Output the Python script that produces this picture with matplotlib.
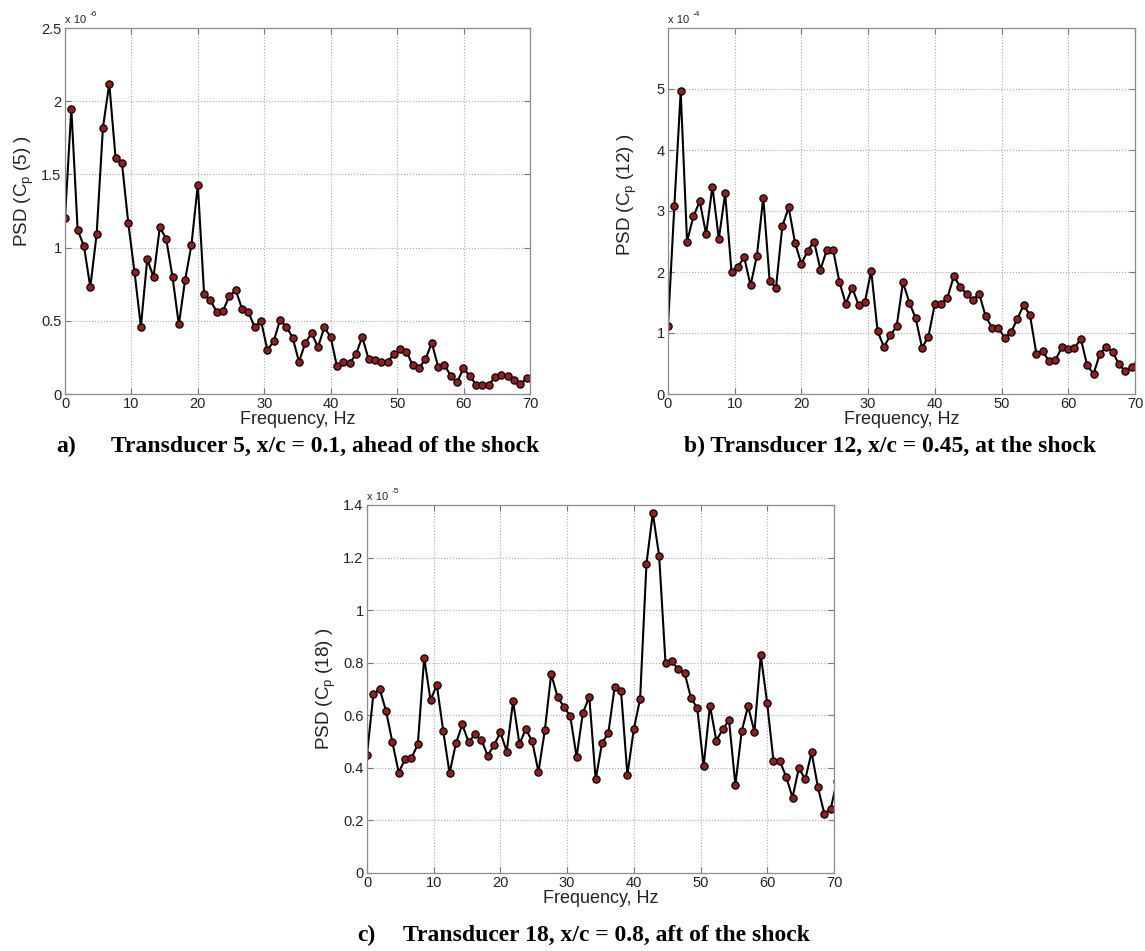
import numpy as np
import matplotlib
matplotlib.use("Agg")
import matplotlib.pyplot as plt

W, H = 1145, 951

plt.rcParams['font.family'] = ['Liberation Sans', 'DejaVu Sans']
plt.rcParams['mathtext.fontset'] = 'custom'
plt.rcParams['mathtext.rm'] = 'Liberation Sans'
plt.rcParams['mathtext.it'] = 'Liberation Sans:italic'

# --------------------------------------------------------
# data, frequency bin spacing in Hz
# --------------------------------------------------------
df = 0.952

# transducer 5, units of 1e-6
psd_a = [1.20, 1.95, 1.12, 1.01, 0.73, 1.09, 1.82, 2.12, 1.61, 1.58,
         1.17, 0.83, 0.46, 0.92, 0.80, 1.14, 1.06, 0.80, 0.475, 0.78,
         1.02, 1.43, 0.68, 0.64, 0.56, 0.57, 0.67, 0.71, 0.58, 0.56,
         0.455, 0.50, 0.30, 0.36, 0.505, 0.46, 0.385, 0.22, 0.35, 0.415,
         0.32, 0.455, 0.39, 0.19, 0.22, 0.21, 0.27, 0.39, 0.24, 0.235,
         0.22, 0.22, 0.27, 0.305, 0.29, 0.195, 0.18, 0.237, 0.35, 0.187,
         0.20, 0.123, 0.08, 0.175, 0.123, 0.064, 0.064, 0.062, 0.116, 0.13,
         0.123, 0.096, 0.068, 0.107]

# transducer 12, units of 1e-4
psd_b = [1.12, 3.08, 4.96, 2.50, 2.91, 3.16, 2.62, 3.40, 2.54, 3.29,
         2.00, 2.09, 2.24, 1.78, 2.27, 3.22, 1.86, 1.74, 2.75, 3.06,
         2.48, 2.13, 2.35, 2.50, 2.04, 2.36, 2.36, 1.83, 1.48, 1.74,
         1.46, 1.51, 2.02, 1.03, 0.77, 0.96, 1.11, 1.83, 1.50, 1.24,
         0.76, 0.94, 1.47, 1.48, 1.58, 1.93, 1.76, 1.64, 1.54, 1.64,
         1.28, 1.09, 1.09, 0.92, 1.01, 1.23, 1.46, 1.29, 0.66, 0.70,
         0.535, 0.557, 0.764, 0.737, 0.753, 0.906, 0.47, 0.33, 0.66, 0.775,
         0.69, 0.49, 0.37, 0.44, 0.51]

# transducer 18, units of 1e-5
psd_c = [0.45, 0.68, 0.70, 0.616, 0.497, 0.382, 0.434, 0.438, 0.489, 0.819,
         0.658, 0.715, 0.54, 0.38, 0.493, 0.565, 0.498, 0.528, 0.507, 0.447,
         0.486, 0.535, 0.462, 0.653, 0.491, 0.547, 0.502, 0.385, 0.543, 0.757,
         0.670, 0.632, 0.597, 0.442, 0.61, 0.67, 0.356, 0.493, 0.533, 0.709,
         0.692, 0.373, 0.546, 0.662, 1.176, 1.369, 1.206, 0.799, 0.805, 0.775,
         0.762, 0.667, 0.627, 0.406, 0.637, 0.504, 0.546, 0.582, 0.335, 0.54,
         0.635, 0.537, 0.829, 0.648, 0.426, 0.426, 0.366, 0.287, 0.40, 0.356,
         0.459, 0.326, 0.226, 0.243, 0.35]

freq_ticks = [0, 10, 20, 30, 40, 50, 60, 70]
yticks_a = [0, 0.5, 1, 1.5, 2, 2.5]
yticks_b = [0, 1, 2, 3, 4, 5]
yticks_c = [0, 0.2, 0.4, 0.6, 0.8, 1.0, 1.2, 1.4]
ytick_labels_a = ['0', '0.5', '1', '1.5', '2', '2.5']
ytick_labels_b = ['0', '1', '2', '3', '4', '5']
ytick_labels_c = ['0', '0.2', '0.4', '0.6', '0.8', '1', '1.2', '1.4']

ylabel_a = r'PSD (C$_\mathrm{p}$ (5) )'
ylabel_b = r'PSD (C$_\mathrm{p}$ (12) )'
ylabel_c = r'PSD (C$_\mathrm{p}$ (18) )'


fig = plt.figure(figsize=(W / 100, H / 100), dpi=100)


def panel(box, psd, ymax, yticks, yticklabels, ylabel, expo, ylab_y):
    x0, y0, x1, y1 = box
    ax = fig.add_axes([x0 / W, 1 - y1 / H, (x1 - x0) / W, (y1 - y0) / H])
    f = np.arange(len(psd)) * df
    ax.plot(f, psd, '-o', color='black', lw=1.5, ms=5.2,
            mfc='#981c1f', mec='black', mew=0.9)
    ax.set_xlim(0, 70)
    ax.set_ylim(0, ymax)
    ax.set_xticks(freq_ticks)
    ax.set_yticks(yticks)
    ax.set_yticklabels(yticklabels)
    ax.grid(True, linestyle=':', color='#a8a8a8', linewidth=0.8)
    ax.tick_params(direction='in', top=True, right=True, length=4, pad=2.5,
                   labelsize=10.5, colors='#777777', labelcolor='#222222')
    for s in ax.spines.values():
        s.set_color('#8c8c8c')
        s.set_linewidth(0.9)
    ax.set_xlabel('Frequency, Hz', fontsize=13, color='#222222', labelpad=0)
    ax.set_ylabel(ylabel, fontsize=13.5, color='#222222')
    ax.yaxis.set_label_coords(-0.062, ylab_y)
    ax.text(0, 1.008, 'x 10', transform=ax.transAxes, ha='left', va='bottom',
            fontsize=8, color='#222222')
    ax.text(0.052, 1.028, expo, transform=ax.transAxes, ha='left', va='bottom',
            fontsize=6, color='#222222')
    return ax


panel((65, 28, 530, 394), psd_a, 2.5, yticks_a, ytick_labels_a, ylabel_a, '-6', 0.555)
panel((668, 28, 1135, 394), psd_b, 6, yticks_b, ytick_labels_b, ylabel_b, '-4', 0.545)
panel((367, 505, 834, 873), psd_c, 1.4, yticks_c, ytick_labels_c, ylabel_c, '-5', 0.5)

cap = dict(fontsize=17, fontweight='bold', family='Liberation Serif', va='center')
fig.text(56 / W, 1 - 446 / H, 'a)', **cap)
fig.text(111 / W, 1 - 446 / H, 'Transducer 5, x/c = 0.1, ahead of the shock', **cap)
fig.text(684 / W, 1 - 446 / H, 'b) Transducer 12, x/c = 0.45, at the shock', **cap)
fig.text(357 / W, 1 - 935 / H, 'c)', **cap)
fig.text(403 / W, 1 - 935 / H, 'Transducer 18, x/c = 0.8, aft of the shock', **cap)

fig.savefig('out.png', dpi=100)
